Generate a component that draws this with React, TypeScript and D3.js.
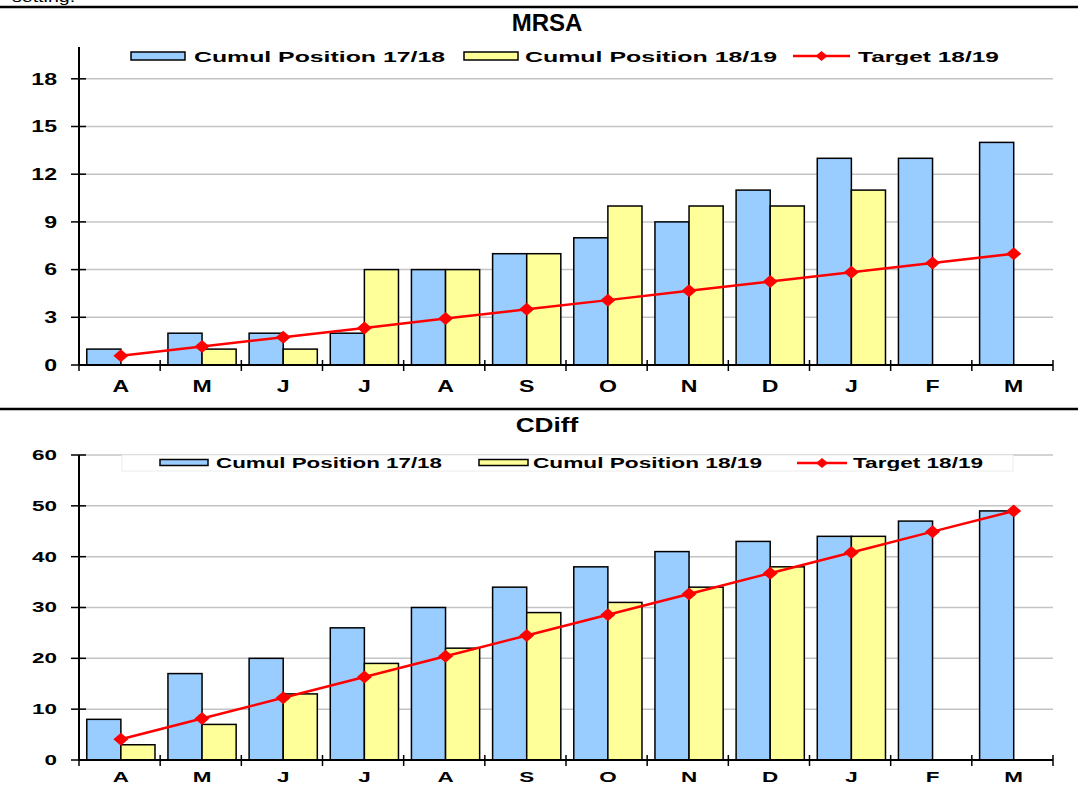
import React from "react";
import { scaleBand, scaleLinear, line, range } from "d3";

// month initials, April to March
const months = ["A", "M", "J", "J", "A", "S", "O", "N", "D", "J", "F", "M"];

const mrsa1718 = [1, 2, 2, 2, 6, 7, 8, 9, 11, 13, 13, 14];
const mrsa1819 = [0, 1, 1, 6, 6, 7, 10, 10, 10, 11, null, null];
const mrsaTarget = [0.58, 1.17, 1.75, 2.33, 2.92, 3.5, 4.08, 4.67, 5.25, 5.83, 6.42, 7];
const mrsaTicks = [0, 3, 6, 9, 12, 15, 18];

const cdiff1718 = [8, 17, 20, 26, 30, 34, 38, 41, 43, 44, 47, 49];
const cdiff1819 = [3, 7, 13, 19, 22, 29, 31, 34, 38, 44, null, null];
const cdiffTarget = [4.08, 8.17, 12.25, 16.33, 20.42, 24.5, 28.58, 32.67, 36.75, 40.83, 44.92, 49];
const cdiffTicks = [0, 10, 20, 30, 40, 50, 60];

const seriesNames = ["Cumul Position 17/18", "Cumul Position 18/19", "Target 18/19"];

const BLUE = "#99CCFF";
const YELLOW = "#FFFF99";
const RED = "#FF0000";
const FONT = "'Liberation Sans', Arial, sans-serif";

// stretched text (source picture is wider than normal glyphs)
const T = ({ x, y, size, sx = 1, anchor = "middle", weight = "bold", children }: any) => (
  <text
    transform={`translate(${x},${y}) scale(${sx},1)`}
    fontSize={size}
    fontWeight={weight}
    fontFamily={FONT}
    textAnchor={anchor}
    dominantBaseline="central"
    fill="#000"
  >
    {children}
  </text>
);

const Chart = ({ title, titleY, titleSize, titleSx, a, b, target, ticks, yMax, yBottom, yTop, legend, tickSize, tickSx, xLabelY, legendBox }: any) => {
  const x0 = 79;
  const x1 = 1053;
  const x = scaleBand<number>().domain(range(months.length)).range([x0, x1]).padding(0);
  const xs = scaleBand<string>()
    .domain(["a", "b"])
    .range([0, x.bandwidth()])
    .paddingInner(0)
    .paddingOuter(0.19)
    .align(0.6);
  const y = scaleLinear().domain([0, yMax]).range([yBottom, yTop]);
  const mid = (i: number) => (x(i) as number) + (xs("b") as number);
  const path = line<number>()
    .x((d, i) => mid(i))
    .y((d) => y(d))(target);

  const bar = (v: number | null, i: number, key: string, fill: string) => {
    if (v == null || v <= 0) return null;
    return (
      <rect
        key={key + i}
        x={(x(i) as number) + (xs(key) as number)}
        y={y(v)}
        width={xs.bandwidth()}
        height={y(0) - y(v)}
        fill={fill}
        stroke="#000"
        strokeWidth={1.5}
      />
    );
  };

  const diamond = (cx: number, cy: number, w: number, h: number) =>
    `M${cx - w / 2},${cy}L${cx},${cy - h / 2}L${cx + w / 2},${cy}L${cx},${cy + h / 2}Z`;

  const legendText = (pos: number[], label: string) => (
    <text x={pos[0]} y={legend.ty} textLength={pos[1]} lengthAdjust="spacingAndGlyphs" fontSize={legend.size} fontWeight="bold" fontFamily={FONT} dominantBaseline="central">
      {label}
    </text>
  );

  return (
    <g>
      <T x={547} y={titleY} size={titleSize} sx={titleSx}>
        {title}
      </T>
      {/* gridlines */}
      {ticks.filter((t: number) => t > 0).map((t: number) => (
        <line key={"g" + t} x1={x0} x2={x1} y1={y(t)} y2={y(t)} stroke="#c4c4c4" strokeWidth={1.5} />
      ))}
      {legendBox && (
        <rect x={legendBox[0]} y={legendBox[1]} width={legendBox[2]} height={legendBox[3]} fill="#fff" stroke="#ececec" strokeWidth={1} />
      )}
      {/* legend */}
      <g>
        <rect x={legend.blue[0]} y={legend.sy} width={legend.blue[1]} height={legend.sh} fill={BLUE} stroke="#000" strokeWidth={1.5} />
        {legendText(legend.blueText, seriesNames[0])}
        <rect x={legend.yellow[0]} y={legend.sy} width={legend.yellow[1]} height={legend.sh} fill={YELLOW} stroke="#000" strokeWidth={1.5} />
        {legendText(legend.yellowText, seriesNames[1])}
        <line x1={legend.red[0]} x2={legend.red[1]} y1={legend.ty} y2={legend.ty} stroke={RED} strokeWidth={2.5} />
        <path d={diamond((legend.red[0] + legend.red[1]) / 2, legend.ty, 12, 10)} fill={RED} />
        {legendText(legend.redText, seriesNames[2])}
      </g>
      {/* bars */}
      {a.map((v: number, i: number) => bar(v, i, "a", BLUE))}
      {b.map((v: number | null, i: number) => bar(v, i, "b", YELLOW))}
      {/* axes */}
      <line x1={x0} x2={x0} y1={yTop} y2={yBottom} stroke="#000" strokeWidth={2} />
      <line x1={x0} x2={x1} y1={yBottom} y2={yBottom} stroke="#000" strokeWidth={2} />
      {ticks.map((t: number) => (
        <g key={"t" + t}>
          <line x1={x0 - 8} x2={x0 + 7} y1={y(t)} y2={y(t)} stroke="#000" strokeWidth={1.5} />
          <T x={57} y={y(t)} size={tickSize} sx={tickSx} anchor="end">
            {t}
          </T>
        </g>
      ))}
      {range(months.length + 1).map((i) => {
        const xx = i < months.length ? (x(i) as number) : x1;
        return <line key={"xt" + i} x1={xx} x2={xx} y1={yBottom - 5} y2={yBottom + 6} stroke="#000" strokeWidth={1.5} />;
      })}
      {months.map((m, i) => (
        <T key={"m" + i} x={mid(i)} y={xLabelY} size={tickSize} sx={tickSx}>
          {m}
        </T>
      ))}
      {/* target line */}
      <path d={path as string} fill="none" stroke={RED} strokeWidth={2.5} />
      {target.map((v: number, i: number) => (
        <path key={"d" + i} d={diamond(mid(i), y(v), 15, 13)} fill={RED} />
      ))}
    </g>
  );
};

export default function App() {
  return (
    <svg width={1078} height={802} style={{ position: "absolute", left: 0, top: 0, background: "#fff" }}>
      <rect width={1078} height={802} fill="#fff" />
      <T x={12} y={-3} size={14} sx={1.4} anchor="start" weight="normal">
        setting.
      </T>
      <line x1={0} x2={1078} y1={7} y2={7} stroke="#000" strokeWidth={2.5} />
      <Chart
        title="MRSA"
        titleY={22}
        titleSize={24}
        titleSx={1}
        a={mrsa1718}
        b={mrsa1819}
        target={mrsaTarget}
        ticks={mrsaTicks}
        yMax={20}
        yBottom={365}
        yTop={47}
        tickSize={16.5}
        tickSx={1.4}
        xLabelY={386}
        legend={{
          size: 15.5,
          sy: 52,
          sh: 8,
          ty: 56,
          blue: [131, 54],
          blueText: [194, 251],
          yellow: [464, 54],
          yellowText: [525, 252],
          red: [793, 850],
          redText: [858, 141],
        }}
      />
      <line x1={0} x2={1078} y1={409} y2={409} stroke="#000" strokeWidth={2.5} />
      <Chart
        title="CDiff"
        titleY={424}
        titleSize={21}
        titleSx={1.25}
        a={cdiff1718}
        b={cdiff1819}
        target={cdiffTarget}
        ticks={cdiffTicks}
        yMax={60}
        yBottom={760}
        yTop={455}
        tickSize={14.5}
        tickSx={1.55}
        xLabelY={777}
        legendBox={[122, 455, 891, 16]}
        legend={{
          size: 14.5,
          sy: 459.5,
          sh: 6,
          ty: 463,
          blue: [160, 48],
          blueText: [216, 226],
          yellow: [479, 49],
          yellowText: [533, 229],
          red: [797, 847],
          redText: [853, 130],
        }}
      />
    </svg>
  );
}
